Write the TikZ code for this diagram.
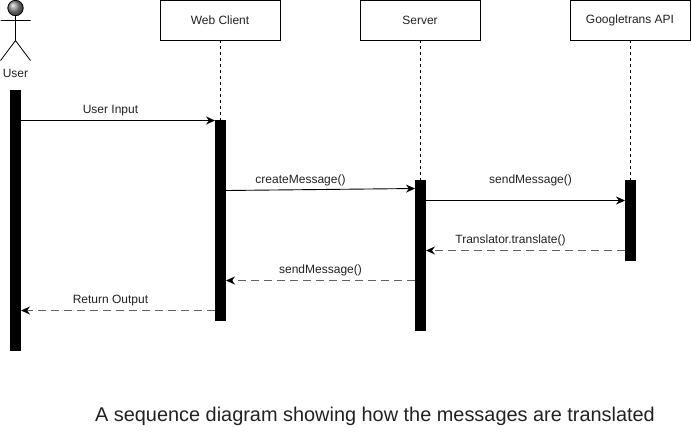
\documentclass[tikz,border=0pt]{standalone}
\usepackage{fontspec}
\setmainfont{Liberation Sans}
\usetikzlibrary{arrows.meta}
\definecolor{txt}{HTML}{222222}
\tikzset{
  x=1pt,y=-1pt,
  head/.style={draw=black,line width=0.8pt,minimum width=120pt,minimum height=40pt,inner sep=0pt,fill=white,font=\fontsize{12}{14}\selectfont,text=txt},
  bar/.style={fill=black,draw=none,minimum width=11pt,inner sep=0pt,outer sep=0pt},
  life/.style={line width=0.7pt,dash pattern=on 3pt off 3pt},
  call/.style={line width=0.9pt,-{Stealth[length=9pt,width=8pt,inset=3pt]}},
  ret/.style={line width=1.2pt,dash pattern=on 8pt off 5pt,draw=black!62,-{Stealth[length=9pt,width=8pt,inset=3pt,color=black]}},
  lab/.style={font=\fontsize{12}{14}\selectfont,text=txt,inner sep=1pt},
  actorline/.style={line width=0.8pt}
}
\begin{document}
\begin{tikzpicture}
\useasboundingbox (0,0) rectangle (692,437);
\fill[white] (0,0) rectangle (692,437);
% boxes
\node[head] (web) at (220,20) {Web Client};
\node[head] (srv) at (420,20) {Server};
\node[head] (api) at (630,20) {Googletrans API};
% activations
\node[bar,minimum height=261pt] (uact) at (15.5,220.5) {};
\node[bar,minimum height=201pt] (wact) at (220.5,220.5) {};
\node[bar,minimum height=151pt] (sact) at (420.5,255.5) {};
\node[bar,minimum height=81pt] (aact) at (630.5,220.5) {};
% lifelines
\draw[life] (web.south) -- (web.south |- wact.north);
\draw[life] (srv.south) -- (srv.south |- sact.north);
\draw[life] (api.south) -- (api.south |- aact.north);
% actor
\shade[ball color=gray!90] (15.5,8) circle (7.7);
\draw[actorline] (15.5,8) circle (7.7);
\coordinate (neck) at (15.5,15.7);
\coordinate (hip) at (15.5,40.5);
\coordinate (armL) at (0.5,20.5);
\coordinate (armR) at (30.5,20.5);
\coordinate (legL) at (0.5,60.5);
\coordinate (legR) at (30.5,60.5);
\draw[actorline] (neck) -- (hip) (armL) -- (armR) (legL) -- (hip) -- (legR);
\node[lab] (usr) at (15.5,73.5) {User};
% messages
\coordinate (m1a) at (21,120.5); \coordinate (m1b) at (215,120.5);
\coordinate (m2a) at (226,190.5); \coordinate (m2b) at (415,188.5);
\coordinate (m3a) at (426,200.5); \coordinate (m3b) at (625,200.5);
\coordinate (m4a) at (625,250.5); \coordinate (m4b) at (426,250.5);
\coordinate (m5a) at (415,280.5); \coordinate (m5b) at (226,280.5);
\coordinate (m6a) at (215,310.5); \coordinate (m6b) at (21,310.5);
\draw[call] (m1a) -- (m1b);
\draw[call] (m2a) -- (m2b);
\draw[call] (m3a) -- (m3b);
\draw[ret] (m4a) -- (m4b);
\draw[ret] (m5a) -- (m5b);
\draw[ret] (m6a) -- (m6b);
\node[lab] (l1) at (110.5,110.5) {User Input};
\node[lab] (l2) at (300.5,180.5) {createMessage()};
\node[lab] (l3) at (530.5,180.5) {sendMessage()};
\node[lab] (l4) at (510.5,240.5) {Translator.translate()};
\node[lab] (l5) at (320.5,270.5) {sendMessage()};
\node[lab] (l6) at (110.5,300.5) {Return Output};
\node[font=\fontsize{19.9}{24}\selectfont,text=txt,inner sep=0pt] (cap) at (375,416) {A sequence diagram showing how the messages are translated};
\end{tikzpicture}
\end{document}
